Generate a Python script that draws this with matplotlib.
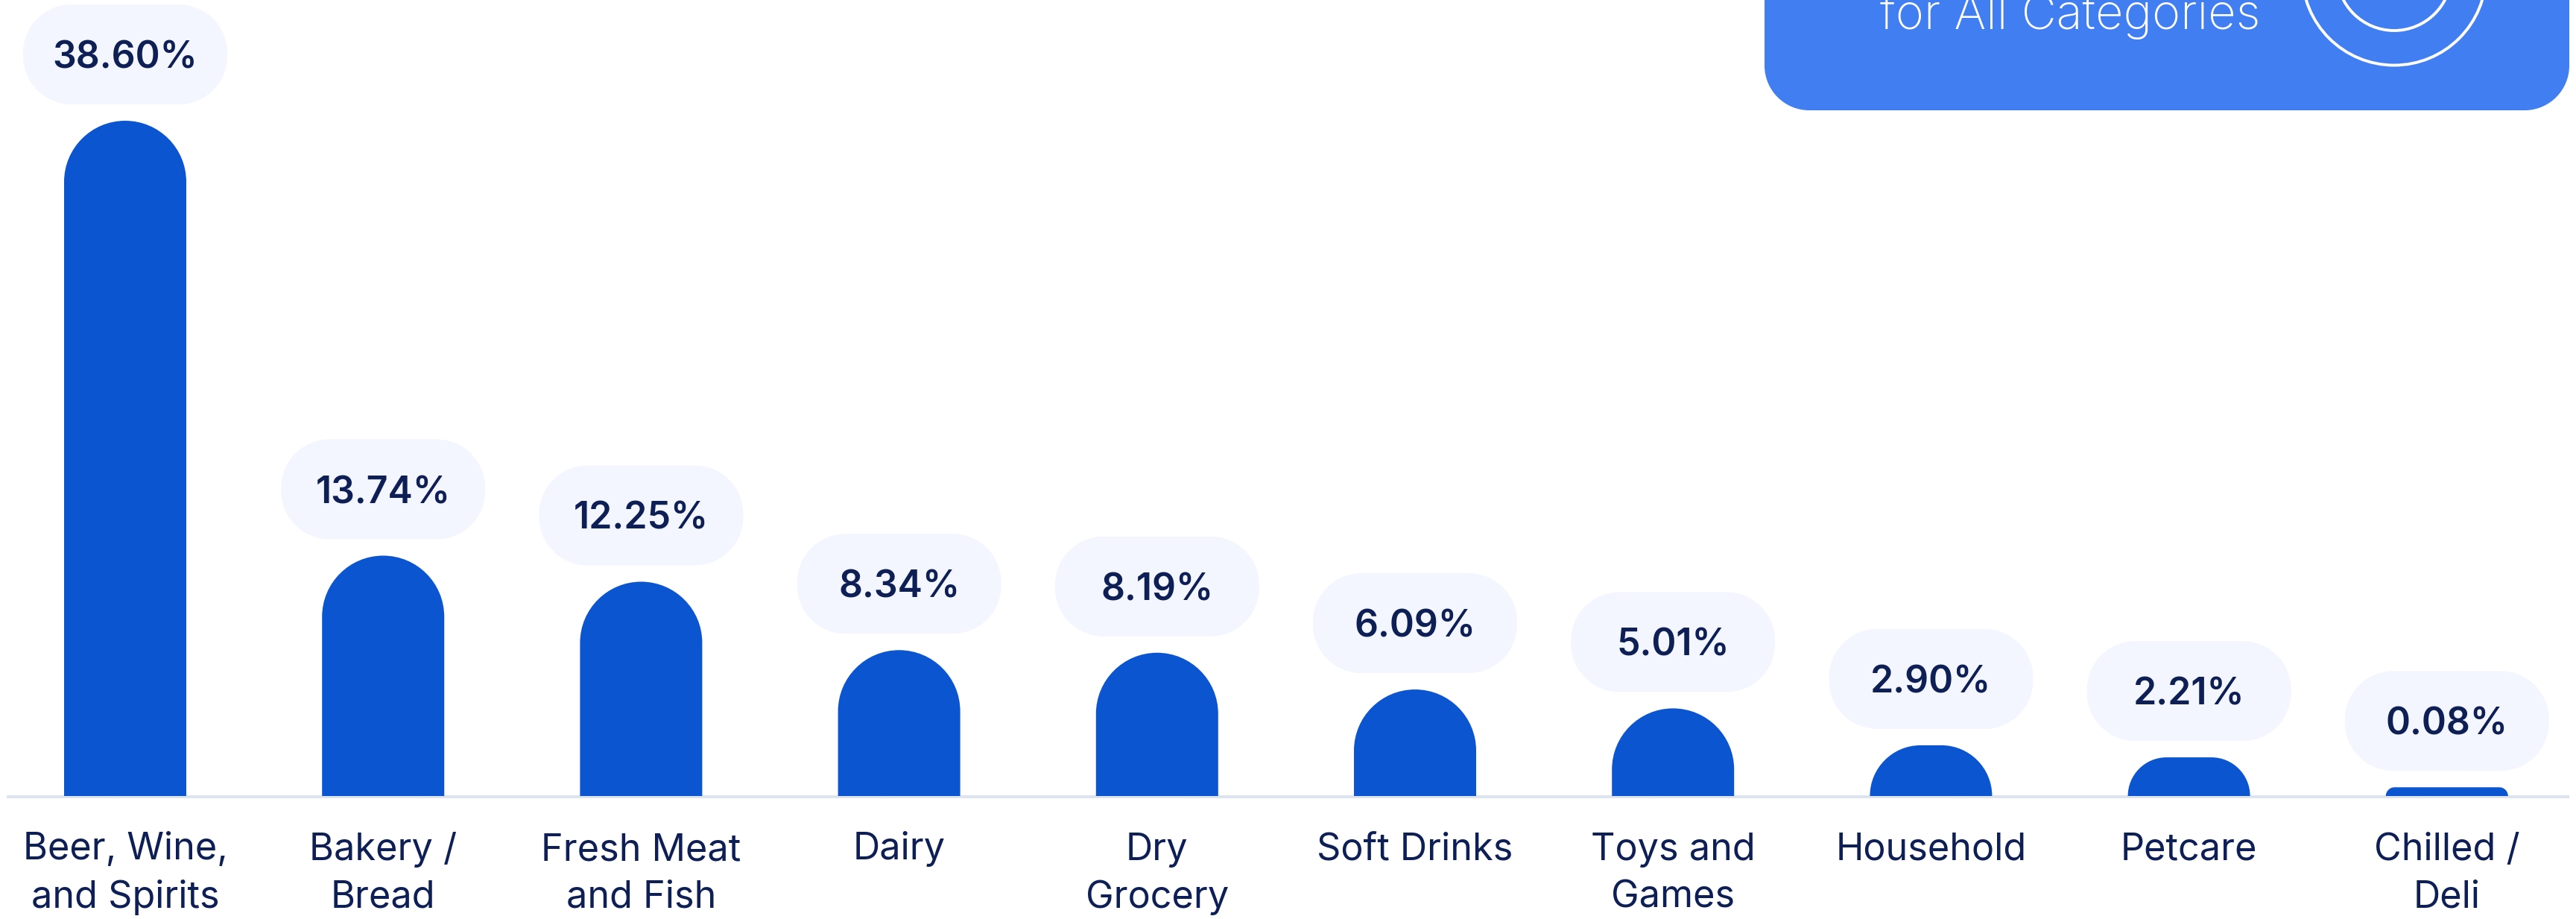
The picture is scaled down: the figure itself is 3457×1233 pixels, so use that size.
import matplotlib
matplotlib.use("Agg")
import matplotlib.pyplot as plt
from matplotlib.path import Path
from matplotlib.patches import PathPatch, Circle
from matplotlib.transforms import Affine2D

# Share of sales by category
categories = ["Beer, Wine,\nand Spirits", "Bakery /\nBread", "Fresh Meat\nand Fish", "Dairy",
              "Dry\nGrocery", "Soft Drinks", "Toys and\nGames", "Household", "Petcare", "Chilled /\nDeli"]
shares = [38.60, 13.74, 12.25, 8.34, 8.19, 6.09, 5.01, 2.90, 2.21, 0.08]
card_caption = "for All Categories"

BAR = "#0C55D1"
CARD = "#407EF1"
PILL = "#F3F6FE"
INK = "#0E1F56"
RULE = "#DCE4F2"
FONT = "Inter"

W, H = 3457, 1233
DPI = 100
BASE_Y = 1068          # baseline row, pixels from the top
UNIT_PX = 906 / 38.6   # pixels per percentage point
STEP_PX = 346.2        # pixels between categories
FIRST_X = 168          # first category centre, pixels
BAR_HALF = 82
SMALLEST_SHARE_DRAWN = 0.5  # keeps tiny shares visible as a stub
LABEL_LINE_PX = 65

fig = plt.figure(figsize=(W / DPI, H / DPI), dpi=DPI, facecolor="white")
ax = fig.add_axes([0, 0, 1, 1])
ax.set_xlim(-FIRST_X / STEP_PX, (W - FIRST_X) / STEP_PX)
ax.set_ylim(-(H - BASE_Y) / UNIT_PX, BASE_Y / UNIT_PX)
ax.axis("off")

# Pixel space with the origin at the top-left, for decoration
px = Affine2D().scale(1, -1).translate(0, H)


def rounded(x0, x1, y0, y1, rx, ry, all_corners=True):
    """Rectangle with y1 as its rounded end; y0 is rounded too when all_corners."""
    k = 0.5523
    sy = 1 if y1 > y0 else -1
    ry = ry * sy
    v = [(x0, y1 - ry),
         (x0, y1 - ry + k * ry), (x0 + rx - k * rx, y1), (x0 + rx, y1),
         (x1 - rx, y1),
         (x1 - rx + k * rx, y1), (x1, y1 - ry + k * ry), (x1, y1 - ry)]
    c = [Path.MOVETO, Path.CURVE4, Path.CURVE4, Path.CURVE4, Path.LINETO,
         Path.CURVE4, Path.CURVE4, Path.CURVE4]
    if all_corners:
        v += [(x1, y0 + ry),
              (x1, y0 + ry - k * ry), (x1 - rx + k * rx, y0), (x1 - rx, y0),
              (x0 + rx, y0),
              (x0 + rx - k * rx, y0), (x0, y0 + ry - k * ry), (x0, y0 + ry)]
        c += [Path.LINETO, Path.CURVE4, Path.CURVE4, Path.CURVE4, Path.LINETO,
              Path.CURVE4, Path.CURVE4, Path.CURVE4]
    else:
        v += [(x1, y0), (x0, y0)]
        c += [Path.LINETO, Path.LINETO]
    v.append(v[0])
    c.append(Path.CLOSEPOLY)
    return Path(v, c)


# Callout card, running off the top edge
ax.add_patch(PathPatch(rounded(2368, 3448, -300, 148, 60, 60), transform=px, fc=CARD, ec="none"))
for r in (123.5, 77):
    ax.add_patch(Circle((3213, -36), r, transform=px, fc="none", ec="white", lw=2.8))
ax.text(2778, 39, card_caption, transform=px, color="white", fontsize=46.8, family=FONT,
        fontweight="light", ha="center", va="baseline")

# Baseline rule
ax.add_patch(PathPatch(Path.unit_rectangle().transformed(Affine2D().scale(3448 - 9, 4).translate(9, 1067)),
                       transform=px, fc=RULE, ec="none"))

half_w = BAR_HALF / STEP_PX
for i, (name, share) in enumerate(zip(categories, shares)):
    drawn = max(share, SMALLEST_SHARE_DRAWN)
    height_px = drawn * UNIT_PX
    r_px = min(height_px, BAR_HALF)
    ax.add_patch(PathPatch(rounded(i - half_w, i + half_w, 0, drawn, r_px / STEP_PX, r_px / UNIT_PX, False),
                           fc=BAR, ec="none"))

    # Value pill sits a fixed gap above the bar
    cx = ax.transData.transform((i, 0))[0]
    top_px = BASE_Y - height_px
    pill_bottom = top_px - 22
    pill_top = pill_bottom - 134
    ax.add_patch(PathPatch(rounded(cx - 137, cx + 137, pill_bottom, pill_top, 65, 65), transform=px, fc=PILL, ec="none"))
    ax.text(cx, (pill_top + pill_bottom) / 2 + 18.5, f"{share:.2f}%", transform=px, color=INK, fontsize=36,
            family=FONT, fontweight="semibold", ha="center", va="baseline")

    # Multi-line text anchors on its last baseline
    last_baseline = 1153 + LABEL_LINE_PX * name.count("\n")
    ax.text(cx, last_baseline, name, transform=px, color=INK, fontsize=36.3, family=FONT, fontweight="normal",
            ha="center", va="baseline", linespacing=1.45)

fig.savefig("out.png", dpi=DPI, facecolor="white")
